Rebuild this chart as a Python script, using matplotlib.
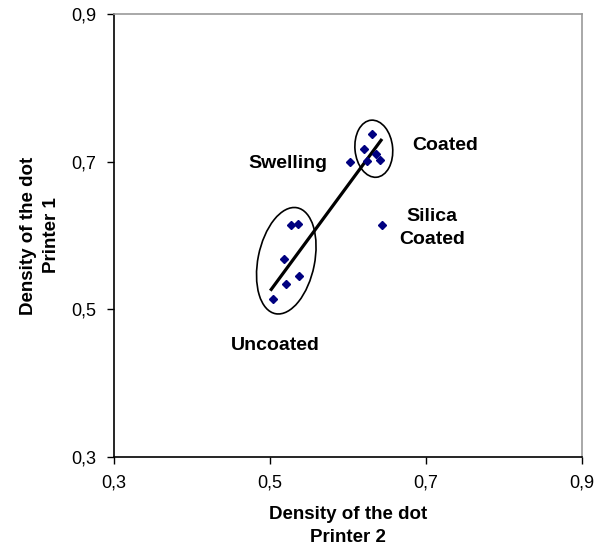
import matplotlib
matplotlib.use("Agg")
import matplotlib.pyplot as plt
from matplotlib.patches import Ellipse
from matplotlib.ticker import FuncFormatter

plt.rcParams['font.family'] = ['Liberation Sans', 'DejaVu Sans']

# Dot density measured on each printer
printer2 = [0.6304, 0.6205, 0.6026, 0.6240, 0.6355, 0.6414, 0.6432,
            0.5265, 0.5363, 0.5184, 0.5376, 0.5201, 0.5038]
printer1 = [0.7371, 0.7172, 0.7000, 0.7010, 0.7104, 0.7023, 0.6142,
            0.6142, 0.6160, 0.5686, 0.5451, 0.5347, 0.5140]

# Trend line end points
trend_x = [0.5004, 0.6436]
trend_y = [0.5252, 0.7308]

ticks = [0.3, 0.5, 0.7, 0.9]

fig = plt.figure(figsize=(6.03, 5.45), dpi=100)
ax = fig.add_axes([0.189, 0.1617, 0.7762, 0.8124])

ax.plot(trend_x, trend_y, color='black', lw=2.3, solid_capstyle='butt', zorder=2)
ax.plot(printer2, printer1, linestyle='none', marker='D', ms=4.2,
        color='#000080', zorder=3)

# Group outlines
ax.add_patch(Ellipse((0.6331, 0.7176), 0.0483, 0.0776, angle=5,
                     fill=False, ec='black', lw=1.2, zorder=2))
ax.add_patch(Ellipse((0.5209, 0.5658), 0.0726, 0.1462, angle=-10.7,
                     fill=False, ec='black', lw=1.2, zorder=2))

lab = dict(fontsize=14, fontweight='bold', ha='center', va='center')
ax.text(0.5235, 0.6978, 'Swelling', **lab)
ax.text(0.7244, 0.7213, 'Coated', **lab)
ax.text(0.7081, 0.6102, 'Silica\nCoated', linespacing=1.42, **lab)
ax.text(0.5064, 0.4516, 'Uncoated', **lab)

ax.set_xlim(0.3, 0.9)
ax.set_ylim(0.3, 0.9)
ax.set_xticks(ticks)
ax.set_yticks(ticks)
fmt = FuncFormatter(lambda v, p: f'{v:.1f}'.replace('.', ','))
ax.xaxis.set_major_formatter(fmt)
ax.yaxis.set_major_formatter(fmt)
ax.tick_params(direction='out', length=5, width=1, labelsize=13, pad=8)

for s in ['top', 'right']:
    ax.spines[s].set_color('#999999')
for s in ['left', 'bottom']:
    ax.spines[s].set_color('black')
for s in ax.spines.values():
    s.set_linewidth(1.2)

ax.set_xlabel('Density of the dot\nPrinter 2', fontsize=13.5, fontweight='bold',
              linespacing=1.46, labelpad=10)
ax.set_ylabel('Density of the dot\nPrinter 1', fontsize=13.5, fontweight='bold',
              linespacing=1.46, labelpad=7.5)

fig.savefig('out.png', dpi=100)
